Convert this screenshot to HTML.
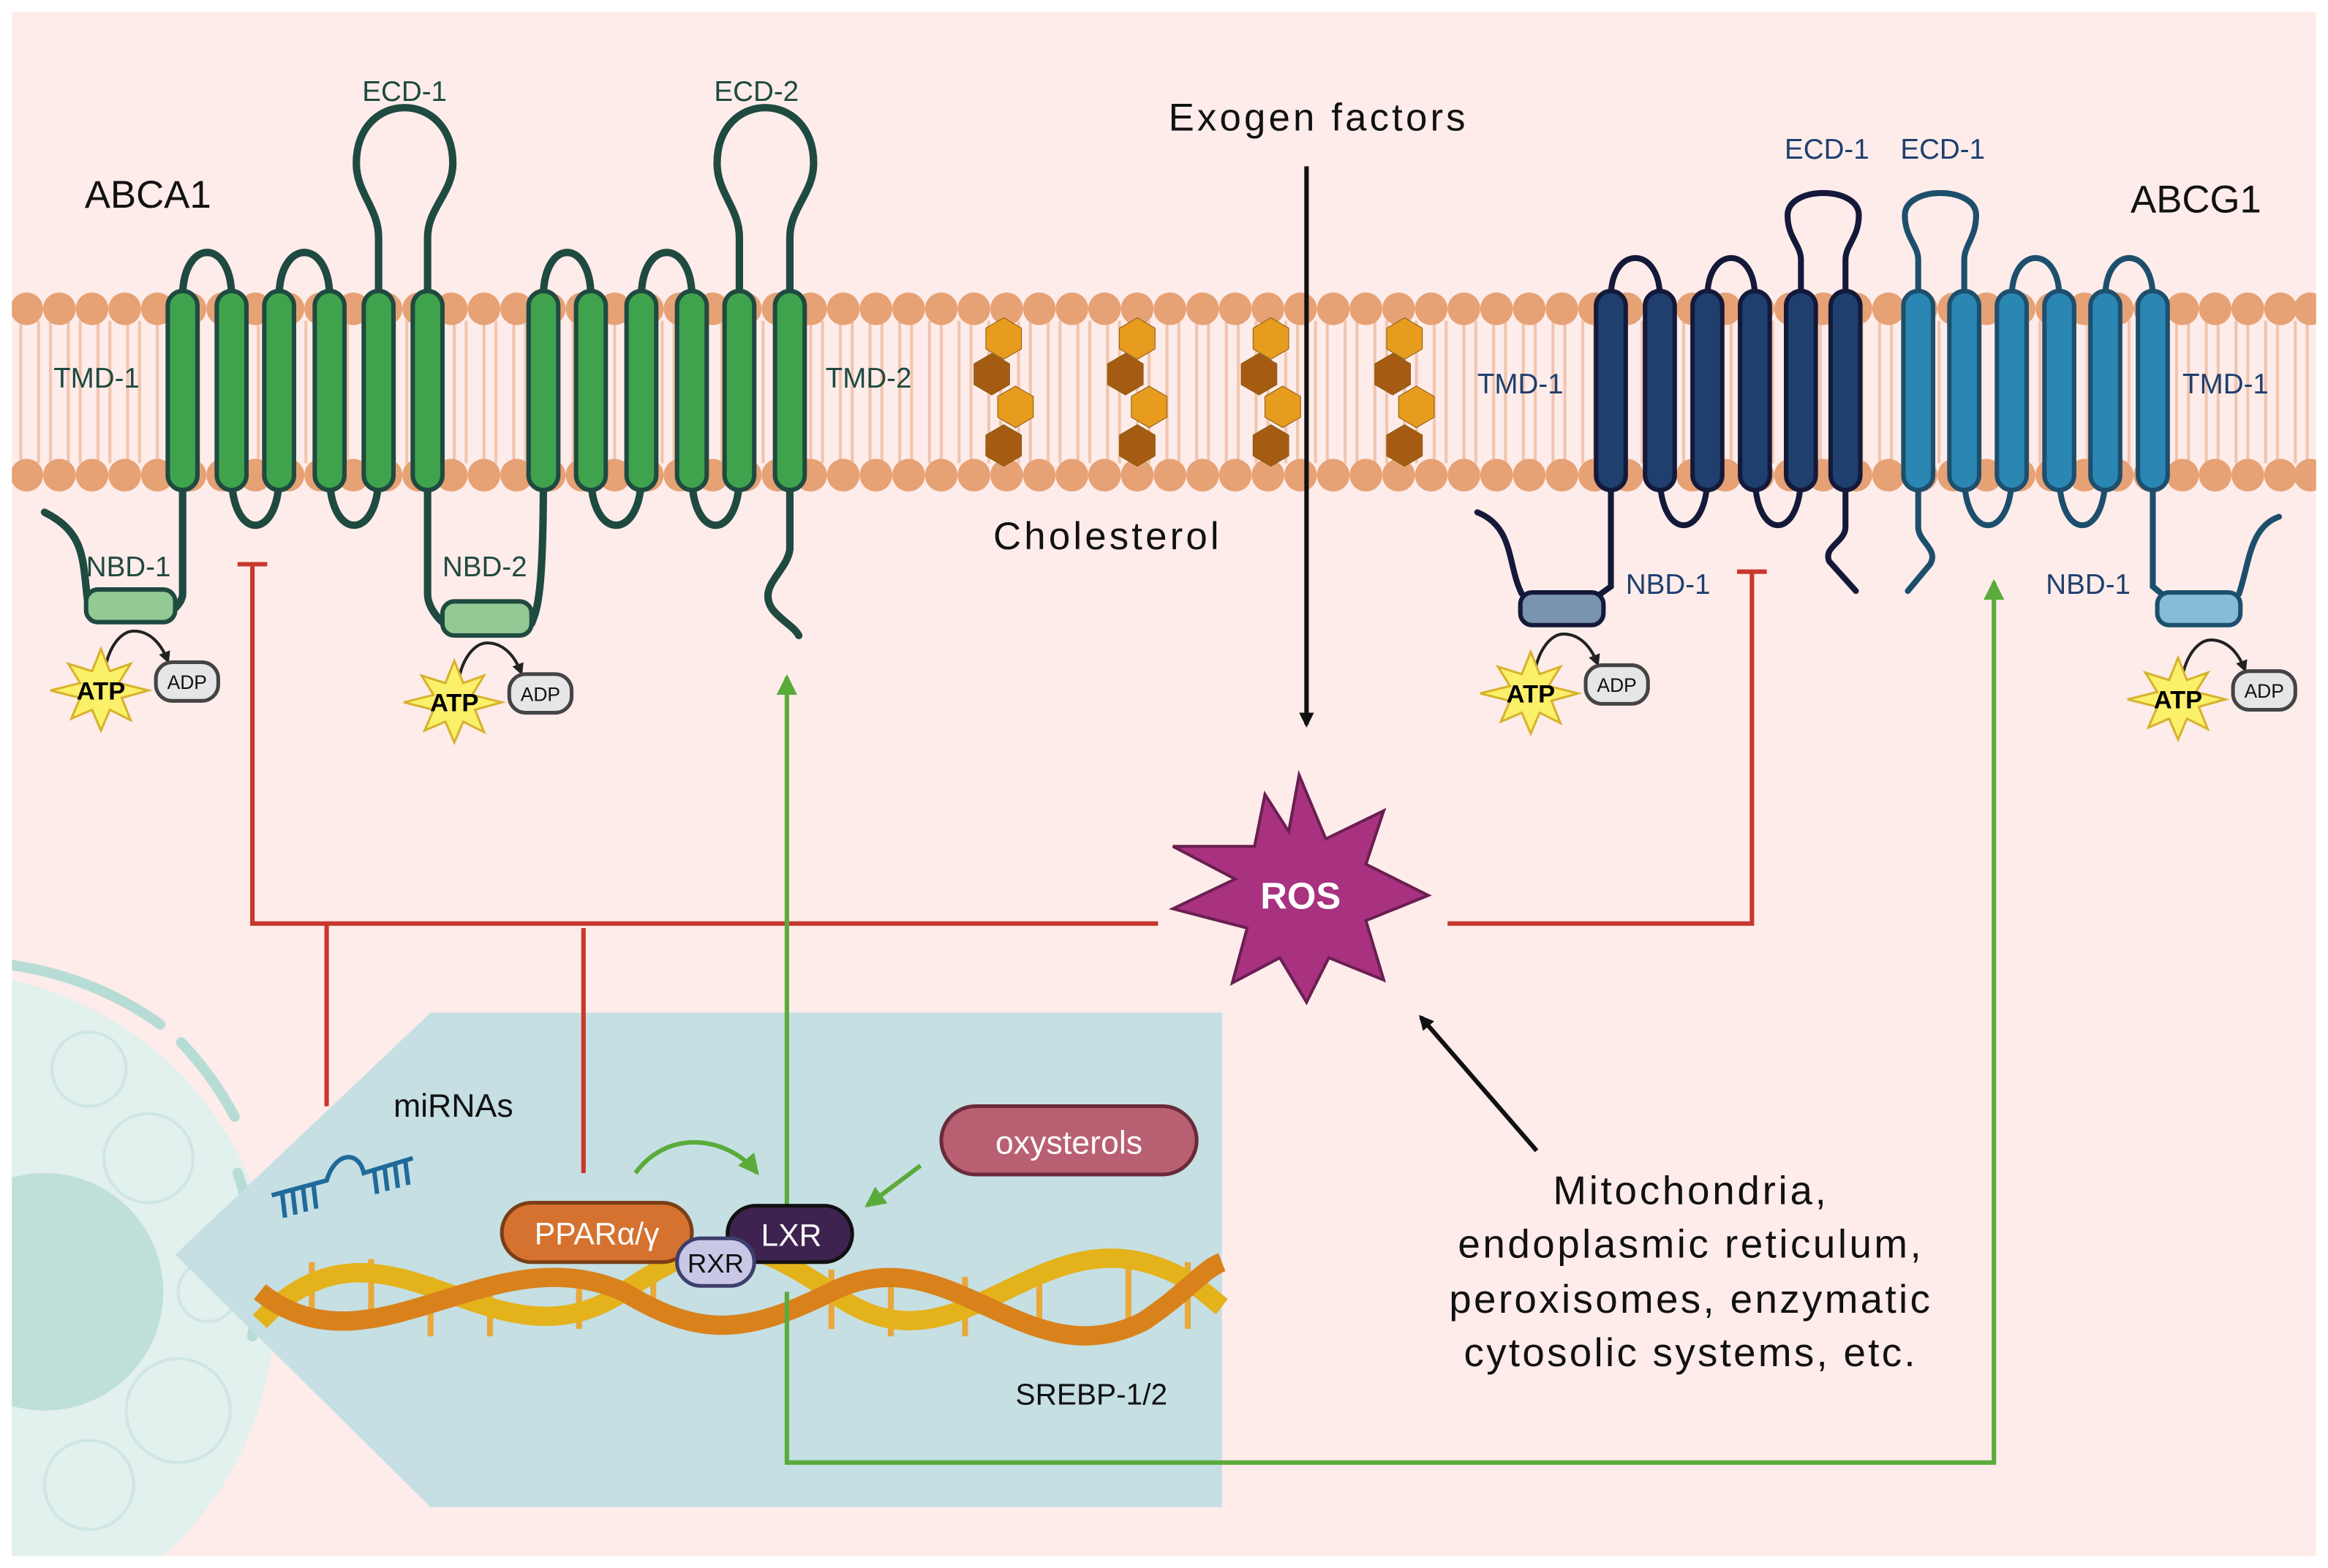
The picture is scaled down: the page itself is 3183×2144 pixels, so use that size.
<!DOCTYPE html>
<html><head><meta charset="utf-8"><style>
html,body{margin:0;padding:0;background:#fff}
svg{display:block}
text{font-family:"Liberation Sans",sans-serif}
</style></head><body>
<svg width="3183" height="2144" viewBox="0 0 1568 1056" preserveAspectRatio="none" xmlns="http://www.w3.org/2000/svg">
<defs>
<pattern id="tails" x="0" y="0" width="20" height="10" patternUnits="userSpaceOnUse">
<line x1="6" y1="0" x2="6" y2="10" stroke="#f2c4ad" stroke-width="2"/>
<line x1="14" y1="0" x2="14" y2="10" stroke="#f2c4ad" stroke-width="2"/>
</pattern>
<marker id="ab" markerWidth="10" markerHeight="10" refX="8" refY="5" orient="auto" markerUnits="userSpaceOnUse"><path d="M0,0 L10,5 L0,10 z" fill="#111"/></marker>
<marker id="ag" markerWidth="14" markerHeight="14" refX="12" refY="7" orient="auto" markerUnits="userSpaceOnUse"><path d="M0,0 L14,7 L0,14 z" fill="#5aab3a"/></marker>
<marker id="as" markerWidth="8" markerHeight="8" refX="6" refY="4" orient="auto" markerUnits="userSpaceOnUse"><path d="M0,0 L8,4 L0,8 z" fill="#222"/></marker>
<g id="row" fill="#e6a175">
<circle cx="18" cy="0" r="11"/><circle cx="40" cy="0" r="11"/><circle cx="62" cy="0" r="11"/><circle cx="84" cy="0" r="11"/><circle cx="106" cy="0" r="11"/><circle cx="128" cy="0" r="11"/><circle cx="150" cy="0" r="11"/><circle cx="172" cy="0" r="11"/><circle cx="194" cy="0" r="11"/><circle cx="216" cy="0" r="11"/><circle cx="238" cy="0" r="11"/><circle cx="260" cy="0" r="11"/><circle cx="282" cy="0" r="11"/><circle cx="304" cy="0" r="11"/><circle cx="326" cy="0" r="11"/><circle cx="348" cy="0" r="11"/><circle cx="370" cy="0" r="11"/><circle cx="392" cy="0" r="11"/><circle cx="414" cy="0" r="11"/><circle cx="436" cy="0" r="11"/><circle cx="458" cy="0" r="11"/><circle cx="480" cy="0" r="11"/><circle cx="502" cy="0" r="11"/><circle cx="524" cy="0" r="11"/><circle cx="546" cy="0" r="11"/><circle cx="568" cy="0" r="11"/><circle cx="590" cy="0" r="11"/><circle cx="612" cy="0" r="11"/><circle cx="634" cy="0" r="11"/><circle cx="656" cy="0" r="11"/><circle cx="678" cy="0" r="11"/><circle cx="700" cy="0" r="11"/><circle cx="722" cy="0" r="11"/><circle cx="744" cy="0" r="11"/><circle cx="766" cy="0" r="11"/><circle cx="788" cy="0" r="11"/><circle cx="810" cy="0" r="11"/><circle cx="832" cy="0" r="11"/><circle cx="854" cy="0" r="11"/><circle cx="876" cy="0" r="11"/><circle cx="898" cy="0" r="11"/><circle cx="920" cy="0" r="11"/><circle cx="942" cy="0" r="11"/><circle cx="964" cy="0" r="11"/><circle cx="986" cy="0" r="11"/><circle cx="1008" cy="0" r="11"/><circle cx="1030" cy="0" r="11"/><circle cx="1052" cy="0" r="11"/><circle cx="1074" cy="0" r="11"/><circle cx="1096" cy="0" r="11"/><circle cx="1118" cy="0" r="11"/><circle cx="1140" cy="0" r="11"/><circle cx="1162" cy="0" r="11"/><circle cx="1184" cy="0" r="11"/><circle cx="1206" cy="0" r="11"/><circle cx="1228" cy="0" r="11"/><circle cx="1250" cy="0" r="11"/><circle cx="1272" cy="0" r="11"/><circle cx="1294" cy="0" r="11"/><circle cx="1316" cy="0" r="11"/><circle cx="1338" cy="0" r="11"/><circle cx="1360" cy="0" r="11"/><circle cx="1382" cy="0" r="11"/><circle cx="1404" cy="0" r="11"/><circle cx="1426" cy="0" r="11"/><circle cx="1448" cy="0" r="11"/><circle cx="1470" cy="0" r="11"/><circle cx="1492" cy="0" r="11"/><circle cx="1514" cy="0" r="11"/><circle cx="1536" cy="0" r="11"/><circle cx="1556" cy="0" r="11"/>
</g>
<g id="ch" stroke="#8a5a10" stroke-width="0.5">
<polygon points="0,-14 12,-7 12,7 0,14 -12,7 -12,-7" fill="#e79c1e" transform="translate(676,228)"/>
<polygon points="0,-14 12,-7 12,7 0,14 -12,7 -12,-7" fill="#a55c12" transform="translate(668,252)"/>
<polygon points="0,-14 12,-7 12,7 0,14 -12,7 -12,-7" fill="#e79c1e" transform="translate(684,274)"/>
<polygon points="0,-14 12,-7 12,7 0,14 -12,7 -12,-7" fill="#a55c12" transform="translate(676,300)"/>
</g>
<g id="atp">
<path d="M70,460 C70,440 80,425 90,425 C100,425 108,432 113,445" stroke="#222" stroke-width="2" fill="none" marker-end="url(#as)"/>
<polygon points="68,437 74,452 88,447 80,460 100,465 82,470 88,485 74,478 68,492 62,478 48,484 54,470 34,465 54,460 46,447 62,452" fill="#fbf06a" stroke="#d7b22c" stroke-width="1.5"/>
<text x="68" y="471" font-size="17" font-weight="bold" text-anchor="middle" fill="#000">ATP</text>
<rect x="105" y="446" width="42" height="26" rx="11" fill="#e6e6e6" stroke="#444" stroke-width="2.5"/>
<text x="126" y="464" font-size="13" text-anchor="middle" fill="#111">ADP</text>
</g>
<clipPath id="pg"><rect x="8" y="8" width="1552" height="1040"/></clipPath>
</defs>
<rect x="0" y="0" width="1568" height="1056" fill="#fff"/>
<rect x="8" y="8" width="1552" height="1040" fill="#fdecea"/>
<!-- membrane -->
<rect x="8" y="216" width="1552" height="96" fill="url(#tails)"/>
<g clip-path="url(#pg)">
<use href="#row" y="208"/>
<use href="#row" y="320"/>

<!-- nucleus -->
<circle cx="-40" cy="880" r="225" fill="#e2f0ee"/>
<path d="M8,650 A225,225 0 0,1 108,690" stroke="#b7dcd6" stroke-width="7" fill="none" stroke-linecap="round"/>
<path d="M122,702 A225,225 0 0,1 158,752" stroke="#b7dcd6" stroke-width="7" fill="none" stroke-linecap="round"/>
<path d="M160,790 A225,225 0 0,1 170,900" stroke="#b7dcd6" stroke-width="7" fill="none" stroke-linecap="round"/>
<circle cx="30" cy="870" r="80" fill="#bfe0d9"/>
<g stroke="#cfe6e2" stroke-width="2" fill="none">
<circle cx="60" cy="720" r="25"/><circle cx="100" cy="780" r="30"/><circle cx="120" cy="950" r="35"/><circle cx="60" cy="1000" r="30"/><circle cx="140" cy="870" r="20"/>
</g>
</g>
<polygon points="118,845 290,682 823,682 823,1015 290,1015" fill="#c5dfe3"/>

<!-- DNA -->
<g stroke-width="4">
<g stroke="#e9a83a">
<line x1="210" y1="850" x2="210" y2="890"/><line x1="250" y1="848" x2="250" y2="892"/><line x1="290" y1="860" x2="290" y2="900"/><line x1="330" y1="865" x2="330" y2="900"/><line x1="390" y1="860" x2="390" y2="895"/><line x1="440" y1="850" x2="440" y2="880"/><line x1="560" y1="855" x2="560" y2="895"/><line x1="600" y1="860" x2="600" y2="900"/><line x1="650" y1="860" x2="650" y2="900"/><line x1="700" y1="855" x2="700" y2="890"/><line x1="760" y1="845" x2="760" y2="890"/><line x1="800" y1="850" x2="800" y2="895"/>
</g>
</g>
<path d="M175,890 C260,800 330,930 420,870 C480,830 500,830 560,870 C640,930 690,830 770,850 C800,858 810,870 823,880" stroke="#e4b21b" stroke-width="13" fill="none"/>
<path d="M175,870 C250,930 330,830 420,870 C470,900 500,900 560,870 C640,830 690,930 770,890 C800,870 810,855 823,850" stroke="#d9821c" stroke-width="13" fill="none"/>

<!-- ABCA1 -->
<g stroke="#1f4a40" stroke-width="5" fill="none" stroke-linecap="round">
<path d="M123,200 C123,160 156,160 156,200"/>
<path d="M188,200 C188,160 222,160 222,200"/>
<path d="M255,200 L255,160 C255,140 240,130 240,110 C240,60 305,60 305,110 C305,130 288,140 288,160 L288,200"/>
<path d="M366,200 C366,160 398,160 398,200"/>
<path d="M432,200 C432,160 466,160 466,200"/>
<path d="M498,200 L498,160 C498,140 483,130 483,110 C483,60 548,60 548,110 C548,130 532,140 532,160 L532,200"/>
<path d="M156,320 C156,365 188,365 188,320"/>
<path d="M222,320 C222,365 255,365 255,320"/>
<path d="M398,320 C398,365 432,365 432,320"/>
<path d="M466,320 C466,365 498,365 498,320"/>
<path d="M123,320 L123,400 C123,405 118,410 115,412"/>
<path d="M60,412 C55,380 60,360 30,345"/>
<path d="M288,320 L288,400 C288,410 298,420 300,420"/>
<path d="M358,420 C362,410 366,400 366,320"/>
<path d="M532,320 L532,370 C530,385 510,395 520,410 C526,418 535,422 538,428"/>
</g>
<g fill="#3fa34d" stroke="#1f4a40" stroke-width="3">
<rect x="113" y="196" width="20" height="134" rx="10"/><rect x="146" y="196" width="20" height="134" rx="10"/><rect x="178" y="196" width="20" height="134" rx="10"/><rect x="212" y="196" width="20" height="134" rx="10"/><rect x="245" y="196" width="20" height="134" rx="10"/><rect x="278" y="196" width="20" height="134" rx="10"/><rect x="356" y="196" width="20" height="134" rx="10"/><rect x="388" y="196" width="20" height="134" rx="10"/><rect x="422" y="196" width="20" height="134" rx="10"/><rect x="456" y="196" width="20" height="134" rx="10"/><rect x="488" y="196" width="20" height="134" rx="10"/><rect x="522" y="196" width="20" height="134" rx="10"/>
</g>
<rect x="58" y="397" width="60" height="22" rx="8" fill="#93c994" stroke="#1f4a40" stroke-width="3"/>
<rect x="298" y="405" width="60" height="23" rx="8" fill="#93c994" stroke="#1f4a40" stroke-width="3"/>

<!-- ABCG1 -->
<g stroke="#14193a" stroke-width="4" fill="none" stroke-linecap="round">
<path d="M1085,200 C1085,165 1118,165 1118,200"/>
<path d="M1150,200 C1150,165 1182,165 1182,200"/>
<path d="M1213,200 L1213,175 C1213,165 1204,160 1204,145 C1204,125 1252,125 1252,145 C1252,160 1243,165 1243,175 L1243,200"/>
<path d="M1118,320 C1118,365 1150,365 1150,320"/>
<path d="M1182,320 C1182,365 1213,365 1213,320"/>
<path d="M1243,320 L1243,355 C1243,365 1228,368 1232,378 L1250,398"/>
<path d="M1085,320 L1085,395 L1078,400"/>
<path d="M1025,400 C1015,380 1020,355 995,345"/>
</g>
<g stroke="#1d4f6d" stroke-width="4" fill="none" stroke-linecap="round">
<path d="M1292,200 L1292,175 C1292,165 1283,160 1283,145 C1283,125 1331,125 1331,145 C1331,160 1323,165 1323,175 L1323,200"/>
<path d="M1355,200 C1355,165 1387,165 1387,200"/>
<path d="M1418,200 C1418,165 1450,165 1450,200"/>
<path d="M1323,320 C1323,365 1355,365 1355,320"/>
<path d="M1387,320 C1387,365 1418,365 1418,320"/>
<path d="M1292,320 L1292,355 C1292,365 1306,370 1300,380 L1285,398"/>
<path d="M1450,320 L1450,395 L1456,400"/>
<path d="M1508,400 C1515,380 1515,355 1535,348"/>
</g>
<g fill="#1f3f6e" stroke="#14193a" stroke-width="3">
<rect x="1075" y="196" width="20" height="134" rx="10"/><rect x="1108" y="196" width="20" height="134" rx="10"/><rect x="1140" y="196" width="20" height="134" rx="10"/><rect x="1172" y="196" width="20" height="134" rx="10"/><rect x="1203" y="196" width="20" height="134" rx="10"/><rect x="1233" y="196" width="20" height="134" rx="10"/>
</g>
<g fill="#2a86b3" stroke="#1d4f6d" stroke-width="3">
<rect x="1282" y="196" width="20" height="134" rx="10"/><rect x="1313" y="196" width="20" height="134" rx="10"/><rect x="1345" y="196" width="20" height="134" rx="10"/><rect x="1377" y="196" width="20" height="134" rx="10"/><rect x="1408" y="196" width="20" height="134" rx="10"/><rect x="1440" y="196" width="20" height="134" rx="10"/>
</g>
<rect x="1024" y="399" width="56" height="22" rx="8" fill="#7a93ae" stroke="#14193a" stroke-width="3"/>
<rect x="1453" y="399" width="56" height="22" rx="8" fill="#86bdd6" stroke="#1d4f6d" stroke-width="3"/>

<!-- cholesterol -->
<use href="#ch"/>
<use href="#ch" x="90"/>
<use href="#ch" x="180"/>
<use href="#ch" x="270"/>

<!-- connectors -->
<g stroke="#c8372d" stroke-width="3" fill="none">
<path d="M170,380 L170,622 L780,622"/><line x1="160" y1="380" x2="180" y2="380"/>
<line x1="220" y1="622" x2="220" y2="745"/>
<line x1="393" y1="625" x2="393" y2="790"/>
<path d="M975,622 L1180,622 L1180,385"/><line x1="1170" y1="385" x2="1190" y2="385"/>
</g>
<g stroke="#5aab3a" stroke-width="3" fill="none">
<line x1="530" y1="812" x2="530" y2="456" marker-end="url(#ag)"/>
<path d="M530,870 L530,985 L1343,985 L1343,392" marker-end="url(#ag)"/>
<path d="M428,790 C450,760 490,765 510,790" marker-end="url(#ag)"/>
<line x1="620" y1="785" x2="584" y2="812" marker-end="url(#ag)"/>
</g>
<g stroke="#111" stroke-width="3" fill="none">
<line x1="880" y1="112" x2="880" y2="488" marker-end="url(#ab)"/>
<line x1="1035" y1="775" x2="957" y2="685" marker-end="url(#ab)"/>
</g>

<!-- ROS -->
<polygon points="875,522 893,565 932,546 920,582 962,603 920,620 932,660 895,645 880,675 862,645 830,662 840,625 790,612 832,592 790,570 845,570 852,535 868,560" fill="#a8327f" stroke="#6a1f52" stroke-width="2"/>
<text x="876" y="612" font-size="25" font-weight="bold" fill="#fff" text-anchor="middle">ROS</text>

<!-- ATP/ADP -->
<use href="#atp"/>
<use href="#atp" x="238" y="8"/>
<use href="#atp" x="963" y="2"/>
<use href="#atp" x="1399" y="6"/>

<!-- transcription factors -->
<rect x="338" y="810" width="128" height="40" rx="20" fill="#d5722f" stroke="#7a3e16" stroke-width="2.5"/>
<text x="402" y="838" font-size="21" fill="#fff" text-anchor="middle">PPARα/γ</text>
<rect x="490" y="812" width="84" height="38" rx="19" fill="#3e2350" stroke="#111" stroke-width="2.5"/>
<text x="533" y="839" font-size="21" fill="#fff" text-anchor="middle">LXR</text>
<rect x="456" y="834" width="52" height="32" rx="16" fill="#c8c8e6" stroke="#3e3e6e" stroke-width="2.5"/>
<text x="482" y="857" font-size="18" fill="#111" text-anchor="middle">RXR</text>
<rect x="634" y="745" width="172" height="46" rx="23" fill="#b86071" stroke="#6a2a3a" stroke-width="2.5"/>
<text x="720" y="777" font-size="22" fill="#fff" text-anchor="middle">oxysterols</text>

<!-- miRNA -->
<g stroke="#1f6a9a" stroke-width="3" fill="none">
<path d="M183,805 L220,795 C226,775 242,775 245,790 L278,780"/>
<line x1="190" y1="803" x2="192" y2="820"/><line x1="197" y1="801" x2="199" y2="818"/><line x1="204" y1="799" x2="206" y2="816"/><line x1="211" y1="797" x2="213" y2="814"/>
<line x1="252" y1="788" x2="254" y2="804"/><line x1="259" y1="786" x2="261" y2="802"/><line x1="266" y1="784" x2="268" y2="800"/><line x1="273" y1="782" x2="275" y2="798"/>
</g>

<!-- labels -->
<g fill="#111" font-size="26">
<text x="57" y="140">ABCA1</text>
<text x="1435" y="143">ABCG1</text>
<text x="787" y="88" textLength="200">Exogen factors</text>
<text x="669" y="370" textLength="152">Cholesterol</text>
</g>
<g fill="#1f4a40" font-size="19">
<text x="244" y="68">ECD-1</text>
<text x="481" y="68">ECD-2</text>
<text x="36" y="261">TMD-1</text>
<text x="556" y="261">TMD-2</text>
<text x="58" y="388">NBD-1</text>
<text x="298" y="388">NBD-2</text>
</g>
<g fill="#1f3f6e" font-size="19">
<text x="1202" y="107">ECD-1</text>
<text x="1280" y="107">ECD-1</text>
<text x="995" y="265">TMD-1</text>
<text x="1470" y="265">TMD-1</text>
<text x="1095" y="400">NBD-1</text>
<text x="1378" y="400">NBD-1</text>
</g>
<text x="265" y="752" font-size="22" fill="#111">miRNAs</text>
<text x="684" y="946" font-size="20" fill="#111">SREBP-1/2</text>
<g font-size="27" fill="#111" text-anchor="middle">
<text x="1138" y="811" textLength="184">Mitochondria,</text>
<text x="1138" y="847" textLength="312">endoplasmic reticulum,</text>
<text x="1138" y="884" textLength="324">peroxisomes, enzymatic</text>
<text x="1138" y="920" textLength="304">cytosolic systems, etc.</text>
</g>
</svg>
</body></html>
